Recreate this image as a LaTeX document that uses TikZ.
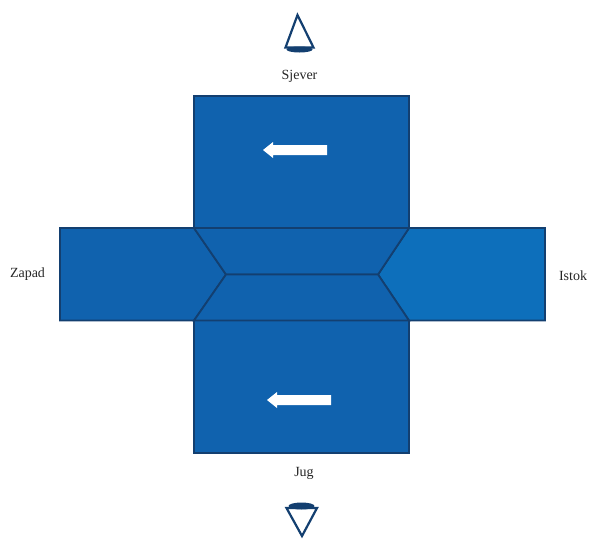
\documentclass[tikz,border=0pt]{standalone}
\usepackage{fontspec}
\setmainfont{Liberation Serif}
\tikzset{
  panel/.style={fill=panelblue,draw=edgeblue,line width=1.8pt,line join=miter},
  viewer/.style={draw=edgeblue,line width=2.2pt,line join=miter},
  sidelabel/.style={inner sep=0pt,font=\fontsize{14}{16}\selectfont,text=black!85}
}
\definecolor{panelblue}{HTML}{1062AE}
\definecolor{eastblue}{HTML}{0D6FBB}
\definecolor{edgeblue}{HTML}{133F70}
\begin{document}
\begin{tikzpicture}[x=1pt,y=-1pt]
  \useasboundingbox (0,0) rectangle (589,539);

  % side panels first, the middle goes over them
  \draw[panel] (60,228) -- (194,228) -- (226,274.5) -- (194,320.5) -- (60,320.5) -- cycle;
  \draw[panel,fill=eastblue] (545,228) -- (409,228) -- (378,274.5) -- (409,320.5) -- (545,320.5) -- cycle;
  \draw[panel] (194,96) rectangle (409,228);
  \draw[panel] (194,320.5) rectangle (409,453);
  \draw[panel] (194,228) -- (409,228) -- (378,274.5) -- (226,274.5) -- cycle;
  \draw[panel] (226,274.5) -- (378,274.5) -- (409,320.5) -- (194,320.5) -- cycle;

  % direction arrows
  \foreach \dx/\dy in {263/150,267/400}
    \fill[white,shift={(\dx,\dy)}] (0,0) -- (10,-8) -- (10,-5) -- (64,-5) -- (64,5) -- (10,5) -- (10,8) -- cycle;

  % viewers
  \draw[viewer] (285.5,47.5) -- (297.5,15) -- (313.5,47.5) -- cycle;
  \fill[edgeblue] (299.5,49.5) ellipse (13 and 3);
  \draw[viewer] (286.5,508) -- (317,508) -- (302,536) -- cycle;
  \fill[edgeblue] (301.5,506) ellipse (13 and 3.5);

  \node[sidelabel] (sjever) at (299.5,76) {Sjever};
  \node[sidelabel] (zapad) at (27.5,274.5) {Zapad};
  \node[sidelabel] (istok) at (573,275.5) {Istok};
  \node[sidelabel] (jug) at (304,473.5) {Jug};
\end{tikzpicture}
\end{document}
